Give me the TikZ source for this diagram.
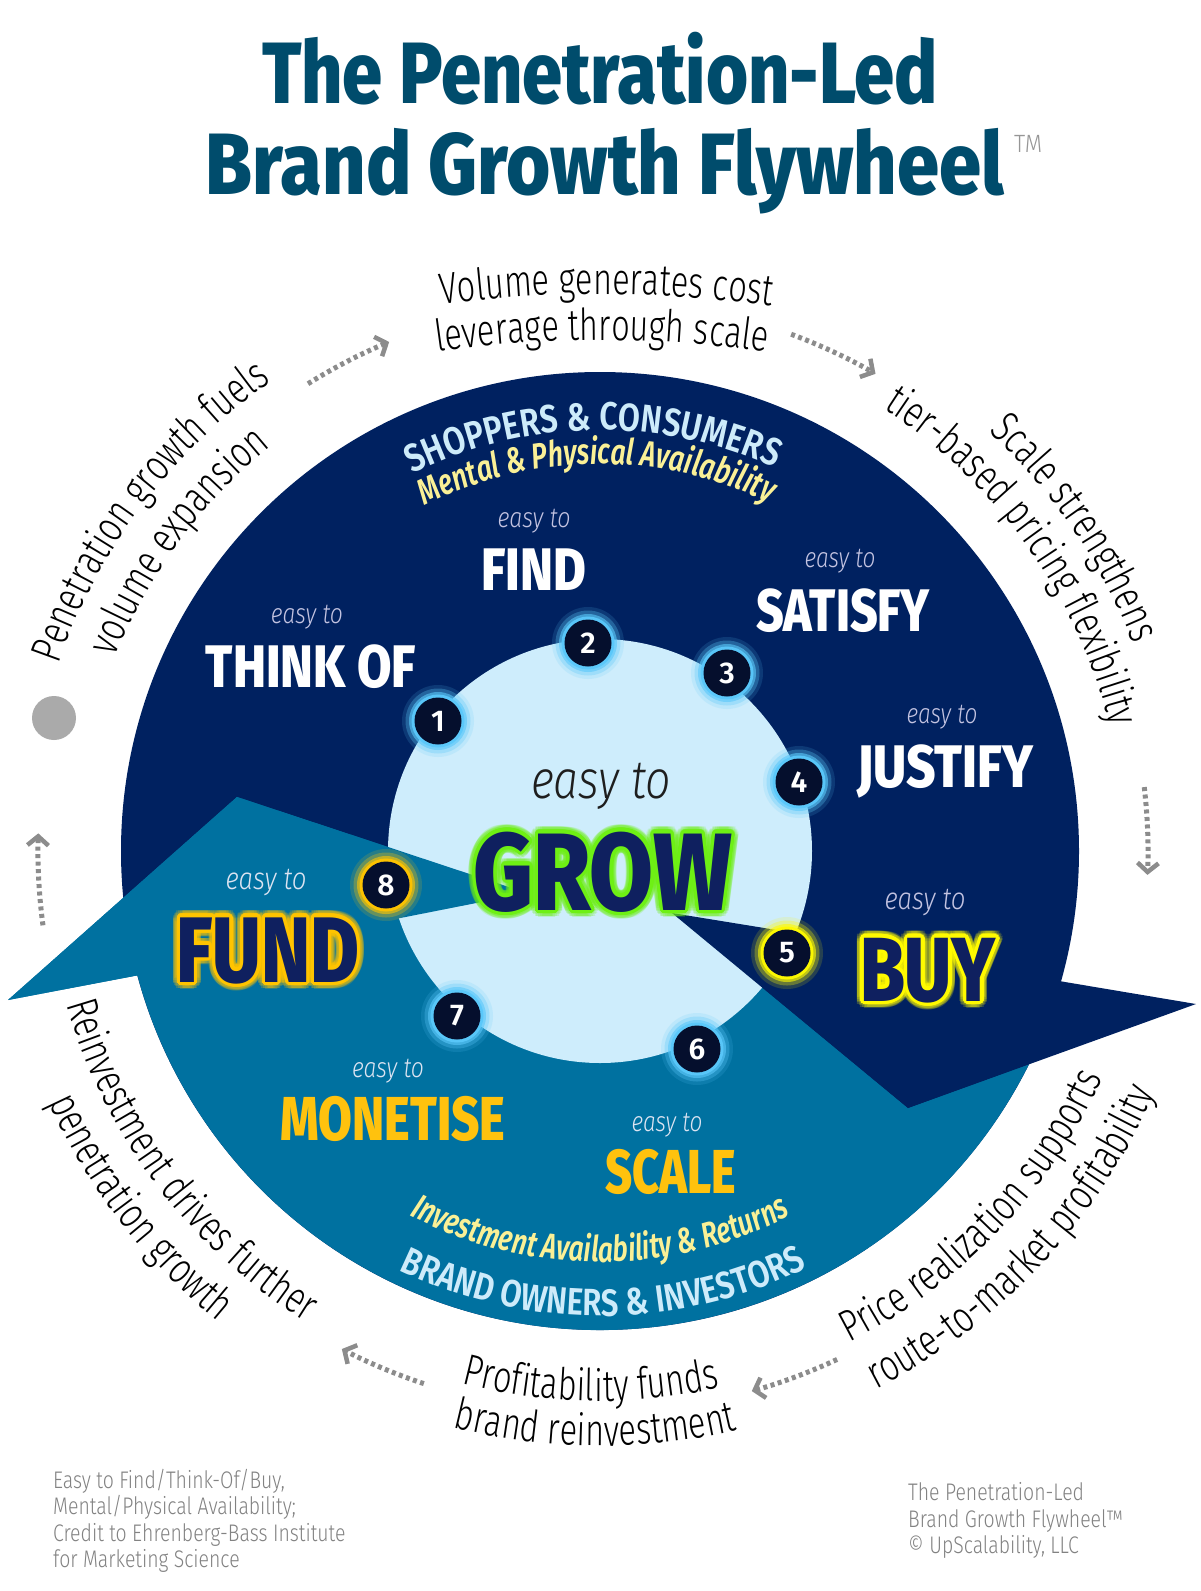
\documentclass[tikz,border=0pt]{standalone}
\usepackage{fontspec}
\usepackage{graphicx}
\usetikzlibrary{calc,decorations.text,arrows.meta}
\newfontface\TitleF{Fira Sans ExtraBold}
\newfontface\BodyF{Fira Sans Light}[FakeStretch=0.74]
\newfontface\EasyF{Fira Sans Light Italic}
\newfontface\SemiF{Fira Sans SemiBold}[FakeStretch=0.82]
\newfontface\SemiIF{Fira Sans SemiBold Italic}[FakeStretch=0.74]
\newfontface\FootF{Fira Sans Light}[FakeStretch=0.81]
\newfontface\NumF{Fira Sans SemiBold}
\newcommand\fitw[2]{\resizebox{#1pt}{\height}{#2}}
\newcommand\OutF{\fontsize{44}{44}\BodyF}
\newcommand\ShopF{\fontsize{39}{39}\SemiF\color{fwSky}}
\newcommand\MentF{\fontsize{36}{36}\SemiIF\color{fwPale}}
\newcommand\InvF{\fontsize{35.5}{35.5}\SemiIF\color{fwPale}}
\newcommand\BrandF{\fontsize{38}{38}\SemiF\color{fwSky}}
\newcommand\FootS{\fontsize{24}{24}\FootF}
\definecolor{fwNavy}{RGB}{0,33,96}
\definecolor{fwTeal}{RGB}{0,113,160}
\definecolor{fwLight}{RGB}{206,237,252}
\definecolor{fwTitle}{RGB}{0,76,108}
\definecolor{fwTM}{RGB}{150,150,150}
\definecolor{fwGray}{RGB}{140,140,140}
\definecolor{fwDotGray}{RGB}{170,170,170}
\definecolor{fwDot}{RGB}{5,15,45}
\definecolor{fwGlowBlue}{RGB}{90,200,250}
\definecolor{fwYellow}{RGB}{255,250,0}
\definecolor{fwGold}{RGB}{255,196,0}
\definecolor{fwGreen}{RGB}{110,240,20}
\definecolor{fwGoldText}{RGB}{255,194,14}
\definecolor{fwEasyN}{RGB}{195,195,225}
\definecolor{fwEasyT}{RGB}{220,228,242}
\definecolor{fwEasyC}{RGB}{30,30,30}
\definecolor{fwSky}{RGB}{205,235,250}
\definecolor{fwPale}{RGB}{250,240,150}
\definecolor{fwFoot}{RGB}{130,130,130}
\definecolor{fwWordNavy}{RGB}{15,32,95}
\tikzset{
  dotarrow/.style={draw=fwGray,line width=5pt,dash pattern=on 4pt off 3.5pt,
    -{Straight Barb[length=9pt,width=21pt,line width=4.5pt]}},
  lbl/.style={anchor=base,inner sep=0pt},
  foot/.style={anchor=base west,inner sep=0pt,text=fwFoot,font=\FootS}
}
% curved text: center, radius, center angle, signed half span, text
\newcommand\arctext[5]{%
  \path[decorate,decoration={text along path,text align=center,text={#5}}]
    ($(#1)+({#3+(#4)}:#2)$) arc[start angle={#3+(#4)},end angle={#3-(#4)},radius=#2];}
\newcommand\easyto[6]{%
  \node[lbl,text=#4] (#1) at (#2,#3) {\fitw{#5}{\fontsize{#6}{#6}\EasyF easy to}};}
\newcommand\bigword[7]{%
  \node[lbl,text=#4] (#1) at (#2,#3) {\fitw{#5}{\fontsize{#6}{#6}\TitleF #7}};}
\newcommand\glowword[8]{%
  \foreach \ga in {0,15,...,345}{%
    \node[lbl,text=#4,opacity=0.2] (#1o\ga) at ($(#2,#3)+(\ga:7)$) {\fitw{#6}{\fontsize{#7}{#7}\TitleF #8}};}
  \foreach \ga in {0,15,...,345}{%
    \node[lbl,text=#4] (#1i\ga) at ($(#2,#3)+(\ga:3.3)$) {\fitw{#6}{\fontsize{#7}{#7}\TitleF #8}};}
  \node[lbl,text=#5] (#1) at (#2,#3) {\fitw{#6}{\fontsize{#7}{#7}\TitleF #8}};}
\newcommand\numdot[5]{%
  \fill[#4,opacity=0.15] (#2,#3) circle[radius=36];
  \fill[#4,opacity=0.3] (#2,#3) circle[radius=32.5];
  \fill[#4,opacity=0.6] (#2,#3) circle[radius=29];
  \fill[#4,opacity=0.95] (#2,#3) circle[radius=26.5];
  \node[circle,fill=fwDot,minimum size=47pt,inner sep=0pt,text=white,font=\fontsize{30}{30}\NumF] (#1) at (#2,#3) {#5};}
\begin{document}
\begin{tikzpicture}[x=1pt,y=1pt]
\fill[white] (0,0) rectangle (1200,-1591);
\useasboundingbox (0,0) rectangle (1200,-1591);
\coordinate (C) at (600,-851);
\coordinate (Ct) at (600,-1494);
% ---------- title
\node[lbl,text=fwTitle] (title1) at (600,-103) {\fitw{676}{\fontsize{87}{87}\TitleF The Penetration-Led}};
\node[lbl,text=fwTitle] (title2) at (605,-194) {\fitw{798}{\fontsize{87}{87}\TitleF Brand Growth Flywheel}};
\node[anchor=base west,inner sep=0pt,text=fwTM] (tm) at (1014,-152) {\fitw{28}{\fontsize{25}{25}\FootF TM}};
% ---------- wheel
\fill[fwNavy] (C) circle[radius=479];
\fill[fwTeal] (672,-913) -- (908,-1108) -- ($(C)+(-26.4:479)$) arc[start angle=-26.4,end angle=-164.95,radius=479]
  -- (8,-1000) -- (237,-797) -- (527,-893) -- cycle;
\fill[fwLight] (C) circle[radius=212];
\fill[fwNavy] (672,-913) -- (795,-933) -- (1065,-982) -- (1196,-1004) -- (908,-1108) -- cycle;
\fill[fwTeal] (527,-893) -- (237,-797) -- (8,-1000) -- ($(C)+(-164.95:479)$) -- (370,-924) -- cycle;
% ---------- inner curved labels
\arctext{C}{421}{91}{45}{|\ShopF|SHOPPERS {\&} CONSUMERS}
\arctext{C}{387}{90.5}{45}{|\MentF|Mental {\&} Physical Availability}
\arctext{C}{411}{-90}{-45}{|\InvF|Investment Availability {\&} Returns}
\arctext{C}{465}{-89.6}{-45}{|\BrandF|BRAND OWNERS {\&} INVESTORS}
% ---------- step labels
\easyto{eFind}{534}{-527}{fwEasyN}{73}{28}
\bigword{find}{534}{-590}{white}{105}{60}{FIND}
\easyto{eThink}{307}{-623}{fwEasyN}{72}{28}
\bigword{think}{311}{-687}{white}{210}{60}{THINK OF}
\easyto{eSat}{840}{-567}{fwEasyN}{71}{28}
\bigword{satisfy}{843}{-631}{white}{174}{60}{SATISFY}
\easyto{eJus}{942}{-723}{fwEasyN}{71}{28}
\bigword{justify}{945}{-787}{white}{176}{60}{JUSTIFY}
\easyto{eBuy}{925}{-909}{fwEasyN}{81}{31}
\easyto{eFund}{266}{-889}{fwEasyT}{81}{31}
\easyto{eMon}{388}{-1077}{fwEasyT}{72}{28}
\bigword{monetise}{393}{-1140}{fwGoldText}{225}{62}{MONETISE}
\easyto{eScale}{667}{-1131}{fwEasyT}{71}{28}
\bigword{scale}{671}{-1193}{fwGoldText}{131}{62}{SCALE}
\node[lbl,text=fwEasyC] (eGrow) at (601,-798) {\fitw{140}{\fontsize{54}{54}\EasyF easy to}};
\glowword{grow}{603}{-910}{fwGreen}{fwWordNavy}{259}{110}{GROW}
\glowword{buy}{928}{-1001}{fwYellow}{fwWordNavy}{136}{91}{BUY}
\glowword{fund}{268}{-982}{fwGold}{fwWordNavy}{183}{93}{FUND}
% ---------- numbered dots
\numdot{n1}{438}{-721}{fwGlowBlue}{1}
\numdot{n2}{588}{-643}{fwGlowBlue}{2}
\numdot{n3}{727}{-673}{fwGlowBlue}{3}
\numdot{n4}{799}{-782}{fwGlowBlue}{4}
\numdot{n5}{787}{-953}{fwYellow}{5}
\numdot{n6}{697}{-1049}{fwGlowBlue}{6}
\numdot{n7}{457}{-1016}{fwGlowBlue}{7}
\numdot{n8}{386}{-885}{fwGold}{8}
% ---------- outer ring texts
\arctext{Ct}{1200}{89.7}{20}{|\OutF|Volume generates cost}
\arctext{Ct}{1154}{89.9}{20}{|\OutF|leverage through scale}
\arctext{C}{572}{34.2}{45}{|\OutF|Scale strengthens}
\arctext{C}{525}{35.5}{45}{|\OutF|tier-based pricing flexibility}
\arctext{C}{573}{143}{45}{|\OutF|Penetration growth fuels}
\arctext{C}{522}{143.7}{45}{|\OutF|volume expansion}
\arctext{C}{551}{-43.7}{-45}{|\OutF|Price realization supports}
\arctext{C}{605}{-43.2}{-45}{|\OutF|route-to-market profitability}
\arctext{C}{550}{-91}{-45}{|\OutF|Profitability funds}
\arctext{C}{595}{-90.5}{-45}{|\OutF|brand reinvestment}
\arctext{C}{555}{-143}{-45}{|\OutF|Reinvestment drives further}
\arctext{C}{606}{-142.3}{-45}{|\OutF|penetration growth}
% ---------- dotted arrows and dot
\draw[dotarrow] ($(C)+(122:551)$) arc[start angle=122,end angle=112.5,radius=551];
\draw[dotarrow] ($(C)+(69.7:551)$) arc[start angle=69.7,end angle=60,radius=551];
\draw[dotarrow] ($(C)+(6.7:548)$) arc[start angle=6.7,end angle=-2.5,radius=548];
\draw[dotarrow] ($(C)+(-65:561)$) arc[start angle=-65,end angle=-74.3,radius=561];
\draw[dotarrow] ($(C)+(-108.3:561)$) arc[start angle=-108.3,end angle=-117.4,radius=561];
\draw[dotarrow] ($(C)+(187.6:562)$) arc[start angle=187.6,end angle=178.2,radius=562];
\fill[fwDotGray] (54,-718) circle[radius=22];
% ---------- footers
\node[foot] (fl1) at (53,-1488) {Easy to Find/Think-Of/Buy,};
\node[foot] (fl2) at (53,-1514.5) {Mental/Physical Availability;};
\node[foot] (fl3) at (53,-1541) {Credit to Ehrenberg-Bass Institute};
\node[foot] (fl4) at (53,-1567.5) {for Marketing Science};
\node[foot] (fr1) at (908,-1500) {The Penetration-Led};
\node[foot] (fr2) at (908,-1527) {Brand Growth Flywheel™};
\node[foot] (fr3) at (908,-1553) {© UpScalability, LLC};
\end{tikzpicture}
\end{document}
